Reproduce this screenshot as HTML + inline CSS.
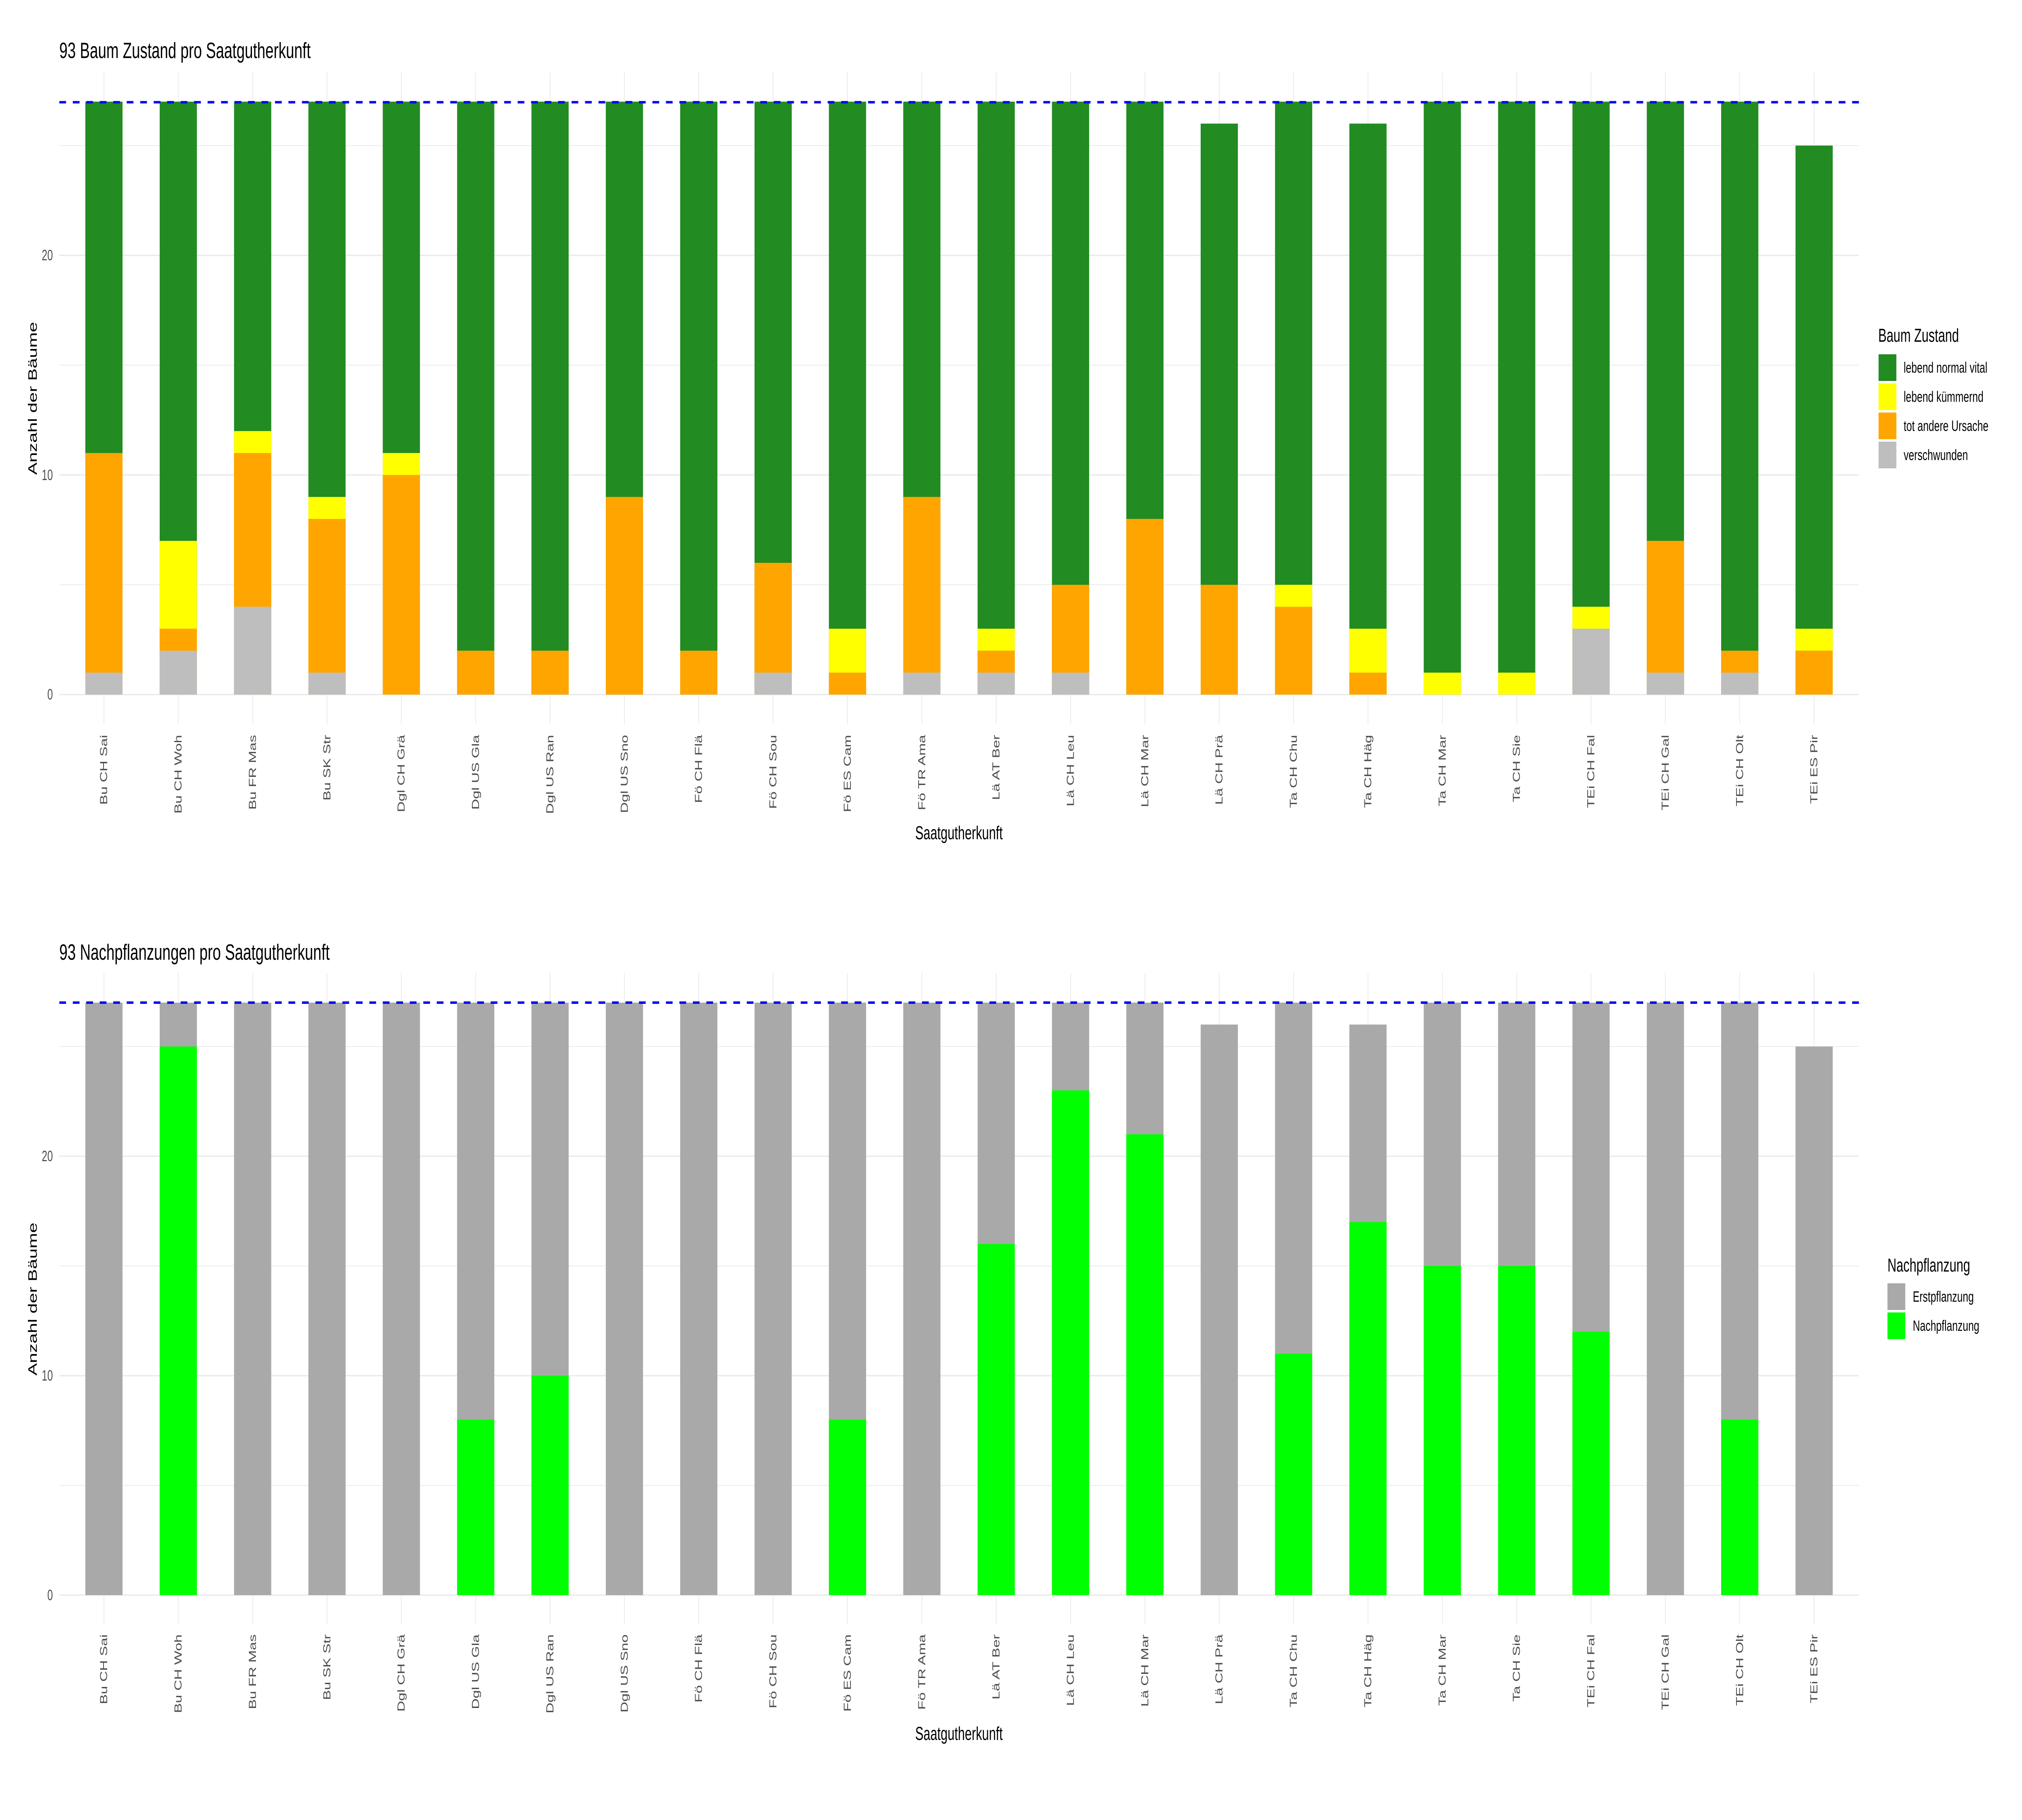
<!DOCTYPE html>
<html><head><meta charset="utf-8"><style>html,body{margin:0;padding:0;background:#fff;overflow:hidden;width:100vw;height:100vh}svg{display:block;position:absolute;left:0;top:0;width:100vw;height:100vh}text{font-family:"Liberation Sans",Arial,sans-serif}</style></head>
<body>
<svg viewBox="0 0 7500 4500" preserveAspectRatio="none" xmlns="http://www.w3.org/2000/svg">
<rect width="7500" height="4500" fill="#fff"/>
<defs>
<g id="vgrid" stroke="#EBEBEB" stroke-width="3">
<line x1="385.5" x2="385.5" y1="0" y2="1"/><line x1="661.3" x2="661.3" y1="0" y2="1"/><line x1="937.1" x2="937.1" y1="0" y2="1"/><line x1="1212.9" x2="1212.9" y1="0" y2="1"/><line x1="1488.7" x2="1488.7" y1="0" y2="1"/><line x1="1764.5" x2="1764.5" y1="0" y2="1"/><line x1="2040.3" x2="2040.3" y1="0" y2="1"/><line x1="2316.1" x2="2316.1" y1="0" y2="1"/><line x1="2591.9" x2="2591.9" y1="0" y2="1"/><line x1="2867.7" x2="2867.7" y1="0" y2="1"/><line x1="3143.5" x2="3143.5" y1="0" y2="1"/><line x1="3419.3" x2="3419.3" y1="0" y2="1"/><line x1="3695.1" x2="3695.1" y1="0" y2="1"/><line x1="3970.9" x2="3970.9" y1="0" y2="1"/><line x1="4246.7" x2="4246.7" y1="0" y2="1"/><line x1="4522.5" x2="4522.5" y1="0" y2="1"/><line x1="4798.3" x2="4798.3" y1="0" y2="1"/><line x1="5074.1" x2="5074.1" y1="0" y2="1"/><line x1="5349.9" x2="5349.9" y1="0" y2="1"/><line x1="5625.7" x2="5625.7" y1="0" y2="1"/><line x1="5901.5" x2="5901.5" y1="0" y2="1"/><line x1="6177.3" x2="6177.3" y1="0" y2="1"/><line x1="6453.1" x2="6453.1" y1="0" y2="1"/><line x1="6728.9" x2="6728.9" y1="0" y2="1"/>
</g>
<g id="xlabels" font-size="37" fill="#4d4d4d" text-anchor="end" dominant-baseline="central">
<text transform="translate(385.5,0) rotate(-90)">Bu CH Sai</text>
<text transform="translate(661.3,0) rotate(-90)">Bu CH Woh</text>
<text transform="translate(937.1,0) rotate(-90)">Bu FR Mas</text>
<text transform="translate(1212.9,0) rotate(-90)">Bu SK Str</text>
<text transform="translate(1488.7,0) rotate(-90)">Dgl CH Grä</text>
<text transform="translate(1764.5,0) rotate(-90)">Dgl US Gla</text>
<text transform="translate(2040.3,0) rotate(-90)">Dgl US Ran</text>
<text transform="translate(2316.1,0) rotate(-90)">Dgl US Sno</text>
<text transform="translate(2591.9,0) rotate(-90)">Fö CH Flä</text>
<text transform="translate(2867.7,0) rotate(-90)">Fö CH Sou</text>
<text transform="translate(3143.5,0) rotate(-90)">Fö ES Cam</text>
<text transform="translate(3419.3,0) rotate(-90)">Fö TR Ama</text>
<text transform="translate(3695.1,0) rotate(-90)">Lä AT Ber</text>
<text transform="translate(3970.9,0) rotate(-90)">Lä CH Leu</text>
<text transform="translate(4246.7,0) rotate(-90)">Lä CH Mar</text>
<text transform="translate(4522.5,0) rotate(-90)">Lä CH Prä</text>
<text transform="translate(4798.3,0) rotate(-90)">Ta CH Chu</text>
<text transform="translate(5074.1,0) rotate(-90)">Ta CH Häg</text>
<text transform="translate(5349.9,0) rotate(-90)">Ta CH Mar</text>
<text transform="translate(5625.7,0) rotate(-90)">Ta CH Sie</text>
<text transform="translate(5901.5,0) rotate(-90)">TEi CH Fal</text>
<text transform="translate(6177.3,0) rotate(-90)">TEi CH Gal</text>
<text transform="translate(6453.1,0) rotate(-90)">TEi CH Olt</text>
<text transform="translate(6728.9,0) rotate(-90)">TEi ES Pir</text>
</g>
</defs>

<text x="220" y="143.5" font-size="55" fill="#000">93 Baum Zustand pro Saatgutherkunft</text>
<use href="#vgrid" transform="translate(0,178) scale(1,1612)"/>
<g stroke-width="2" stroke="#EBEBEB">
<line x1="220" x2="6895" y1="1445.9" y2="1445.9"/><line x1="220" x2="6895" y1="902.9" y2="902.9"/><line x1="220" x2="6895" y1="359.9" y2="359.9"/>
</g>
<g stroke-width="3.5" stroke="#EBEBEB">
<line x1="220" x2="6895" y1="1717.4" y2="1717.4"/><line x1="220" x2="6895" y1="1174.4" y2="1174.4"/><line x1="220" x2="6895" y1="631.4" y2="631.4"/>
</g>
<g transform="translate(0,1717.4) scale(1,-54.3)">
<g fill="#228B22">
<rect x="316.5" y="0" width="138" height="27"/><rect x="592.3" y="0" width="138" height="27"/><rect x="868.1" y="0" width="138" height="27"/><rect x="1143.9" y="0" width="138" height="27"/><rect x="1419.7" y="0" width="138" height="27"/><rect x="1695.5" y="0" width="138" height="27"/><rect x="1971.3" y="0" width="138" height="27"/><rect x="2247.1" y="0" width="138" height="27"/><rect x="2522.9" y="0" width="138" height="27"/><rect x="2798.7" y="0" width="138" height="27"/><rect x="3074.5" y="0" width="138" height="27"/><rect x="3350.3" y="0" width="138" height="27"/><rect x="3626.1" y="0" width="138" height="27"/><rect x="3901.9" y="0" width="138" height="27"/><rect x="4177.7" y="0" width="138" height="27"/><rect x="4453.5" y="0" width="138" height="26"/><rect x="4729.3" y="0" width="138" height="27"/><rect x="5005.1" y="0" width="138" height="26"/><rect x="5280.9" y="0" width="138" height="27"/><rect x="5556.7" y="0" width="138" height="27"/><rect x="5832.5" y="0" width="138" height="27"/><rect x="6108.3" y="0" width="138" height="27"/><rect x="6384.1" y="0" width="138" height="27"/><rect x="6659.9" y="0" width="138" height="25"/>
</g>
<g fill="#FFFF00">
<rect x="592.3" y="0" width="138" height="7"/><rect x="868.1" y="0" width="138" height="12"/><rect x="1143.9" y="0" width="138" height="9"/><rect x="1419.7" y="0" width="138" height="11"/><rect x="3074.5" y="0" width="138" height="3"/><rect x="3626.1" y="0" width="138" height="3"/><rect x="4729.3" y="0" width="138" height="5"/><rect x="5005.1" y="0" width="138" height="3"/><rect x="5280.9" y="0" width="138" height="1"/><rect x="5556.7" y="0" width="138" height="1"/><rect x="5832.5" y="0" width="138" height="4"/><rect x="6659.9" y="0" width="138" height="3"/>
</g>
<g fill="#FFA500">
<rect x="316.5" y="0" width="138" height="11"/><rect x="592.3" y="0" width="138" height="3"/><rect x="868.1" y="0" width="138" height="11"/><rect x="1143.9" y="0" width="138" height="8"/><rect x="1419.7" y="0" width="138" height="10"/><rect x="1695.5" y="0" width="138" height="2"/><rect x="1971.3" y="0" width="138" height="2"/><rect x="2247.1" y="0" width="138" height="9"/><rect x="2522.9" y="0" width="138" height="2"/><rect x="2798.7" y="0" width="138" height="6"/><rect x="3074.5" y="0" width="138" height="1"/><rect x="3350.3" y="0" width="138" height="9"/><rect x="3626.1" y="0" width="138" height="2"/><rect x="3901.9" y="0" width="138" height="5"/><rect x="4177.7" y="0" width="138" height="8"/><rect x="4453.5" y="0" width="138" height="5"/><rect x="4729.3" y="0" width="138" height="4"/><rect x="5005.1" y="0" width="138" height="1"/><rect x="6108.3" y="0" width="138" height="7"/><rect x="6384.1" y="0" width="138" height="2"/><rect x="6659.9" y="0" width="138" height="2"/>
</g>
<g fill="#BEBEBE">
<rect x="316.5" y="0" width="138" height="1"/><rect x="592.3" y="0" width="138" height="2"/><rect x="868.1" y="0" width="138" height="4"/><rect x="1143.9" y="0" width="138" height="1"/><rect x="2798.7" y="0" width="138" height="1"/><rect x="3350.3" y="0" width="138" height="1"/><rect x="3626.1" y="0" width="138" height="1"/><rect x="3901.9" y="0" width="138" height="1"/><rect x="5832.5" y="0" width="138" height="3"/><rect x="6108.3" y="0" width="138" height="1"/><rect x="6384.1" y="0" width="138" height="1"/>
</g>
</g>
<line x1="220" x2="6895" y1="252.7" y2="252.7" stroke="#0000FF" stroke-width="6" stroke-dasharray="25 25"/>
<g font-size="37" fill="#4d4d4d" text-anchor="end" dominant-baseline="central">
<text x="196" y="1717.4">0</text><text x="196" y="1174.4">10</text><text x="196" y="631.4">20</text>
</g>
<text transform="translate(122,985) rotate(-90)" font-size="46" text-anchor="middle" dominant-baseline="central">Anzahl der Bäume</text>
<use href="#xlabels" transform="translate(0,1817)"/>
<text x="3557" y="2075" font-size="46" text-anchor="middle">Saatgutherkunft</text>
<text x="6967" y="845" font-size="46">Baum Zustand</text>
<rect x="6968" y="876" width="66" height="66" fill="#228B22"/>
<rect x="6968" y="948" width="66" height="66" fill="#FFFF00"/>
<rect x="6968" y="1020" width="66" height="66" fill="#FFA500"/>
<rect x="6968" y="1092" width="66" height="66" fill="#BEBEBE"/>
<g font-size="37" dominant-baseline="central">
<text x="7061" y="909">lebend normal vital</text>
<text x="7061" y="981">lebend kümmernd</text>
<text x="7061" y="1053">tot andere Ursache</text>
<text x="7061" y="1125">verschwunden</text>
</g>

<text x="220" y="2373" font-size="55" fill="#000">93 Nachpflanzungen pro Saatgutherkunft</text>
<use href="#vgrid" transform="translate(0,2406) scale(1,1611)"/>
<g stroke-width="2" stroke="#EBEBEB">
<line x1="220" x2="6895" y1="3672.7" y2="3672.7"/><line x1="220" x2="6895" y1="3130.1" y2="3130.1"/><line x1="220" x2="6895" y1="2587.5" y2="2587.5"/>
</g>
<g stroke-width="3.5" stroke="#EBEBEB">
<line x1="220" x2="6895" y1="3944" y2="3944"/><line x1="220" x2="6895" y1="3401.4" y2="3401.4"/><line x1="220" x2="6895" y1="2858.8" y2="2858.8"/>
</g>
<g transform="translate(0,3944) scale(1,-54.26)">
<g fill="#A9A9A9">
<rect x="316.5" y="0" width="138" height="27"/><rect x="592.3" y="0" width="138" height="27"/><rect x="868.1" y="0" width="138" height="27"/><rect x="1143.9" y="0" width="138" height="27"/><rect x="1419.7" y="0" width="138" height="27"/><rect x="1695.5" y="0" width="138" height="27"/><rect x="1971.3" y="0" width="138" height="27"/><rect x="2247.1" y="0" width="138" height="27"/><rect x="2522.9" y="0" width="138" height="27"/><rect x="2798.7" y="0" width="138" height="27"/><rect x="3074.5" y="0" width="138" height="27"/><rect x="3350.3" y="0" width="138" height="27"/><rect x="3626.1" y="0" width="138" height="27"/><rect x="3901.9" y="0" width="138" height="27"/><rect x="4177.7" y="0" width="138" height="27"/><rect x="4453.5" y="0" width="138" height="26"/><rect x="4729.3" y="0" width="138" height="27"/><rect x="5005.1" y="0" width="138" height="26"/><rect x="5280.9" y="0" width="138" height="27"/><rect x="5556.7" y="0" width="138" height="27"/><rect x="5832.5" y="0" width="138" height="27"/><rect x="6108.3" y="0" width="138" height="27"/><rect x="6384.1" y="0" width="138" height="27"/><rect x="6659.9" y="0" width="138" height="25"/>
</g>
<g fill="#00FF00">
<rect x="592.3" y="0" width="138" height="25"/><rect x="1695.5" y="0" width="138" height="8"/><rect x="1971.3" y="0" width="138" height="10"/><rect x="3074.5" y="0" width="138" height="8"/><rect x="3626.1" y="0" width="138" height="16"/><rect x="3901.9" y="0" width="138" height="23"/><rect x="4177.7" y="0" width="138" height="21"/><rect x="4729.3" y="0" width="138" height="11"/><rect x="5005.1" y="0" width="138" height="17"/><rect x="5280.9" y="0" width="138" height="15"/><rect x="5556.7" y="0" width="138" height="15"/><rect x="5832.5" y="0" width="138" height="12"/><rect x="6384.1" y="0" width="138" height="8"/>
</g>
</g>
<line x1="220" x2="6895" y1="2479" y2="2479" stroke="#0000FF" stroke-width="6" stroke-dasharray="25 25"/>
<g font-size="37" fill="#4d4d4d" text-anchor="end" dominant-baseline="central">
<text x="196" y="3944">0</text><text x="196" y="3401.4">10</text><text x="196" y="2858.8">20</text>
</g>
<text transform="translate(122,3212) rotate(-90)" font-size="46" text-anchor="middle" dominant-baseline="central">Anzahl der Bäume</text>
<use href="#xlabels" transform="translate(0,4041)"/>
<text x="3557" y="4302" font-size="46" text-anchor="middle">Saatgutherkunft</text>
<text x="7001" y="3144" font-size="46">Nachpflanzung</text>
<rect x="7001" y="3173" width="66" height="66" fill="#A9A9A9"/>
<rect x="7001" y="3245" width="66" height="66" fill="#00FF00"/>
<g font-size="37" dominant-baseline="central">
<text x="7095" y="3206">Erstpflanzung</text>
<text x="7095" y="3278">Nachpflanzung</text>
</g>
</svg>
</body></html>
